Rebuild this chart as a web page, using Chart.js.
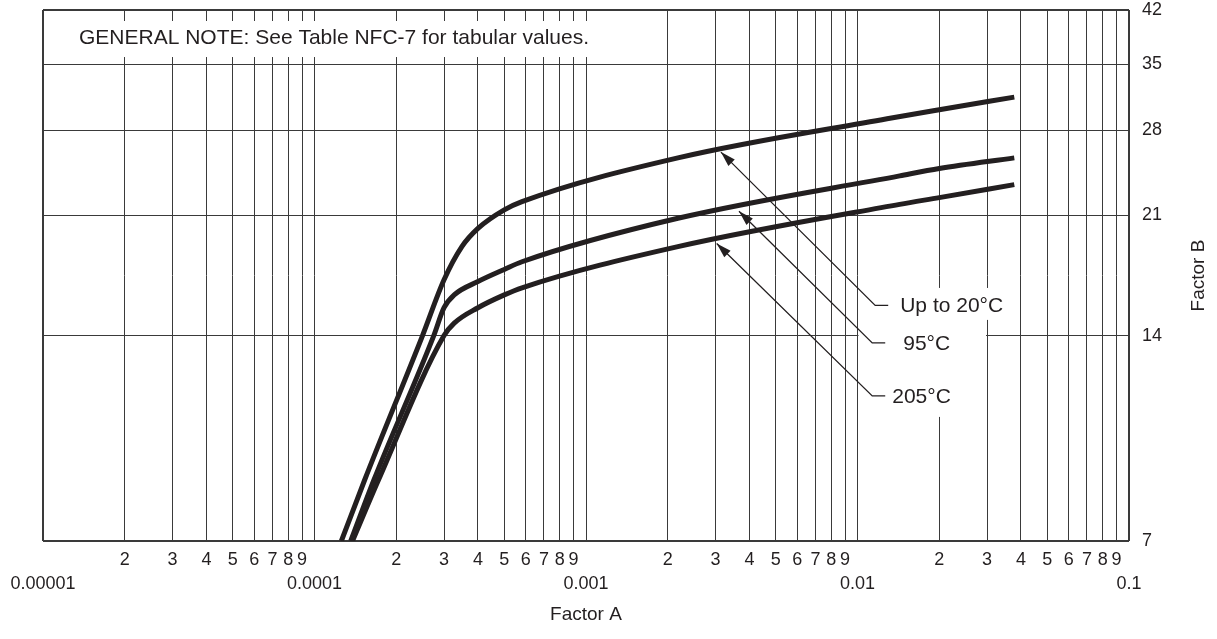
<!DOCTYPE html>
<html>
<head>
<meta charset="utf-8">
<title>Factor B vs Factor A</title>
<script src="https://cdn.jsdelivr.net/npm/chart.js@4.4.1/dist/chart.umd.min.js"></script>
<style>
  html, body { margin: 0; padding: 0; background: #fff; }
  #wrap { width: 1217px; height: 639px; position: relative; }
</style>
</head>
<body>
<div id="wrap"><canvas id="chart"></canvas></div>
<script>
// curve readings: Factor A (x) and Factor B (y) for each temperature
const a20 = [1.256e-4, 1.53e-4, 2.5e-4, 3.0e-4, 3.49e-4, 4.0e-4, 5.0e-4, 5.81e-4, 2.18e-3, 1.285e-2, 2.0e-2, 3.78e-2];
const b20 = [7.0, 8.6, 14.0, 16.9, 18.9, 20.1, 21.4, 22.0, 25.5, 29.1, 30.0, 31.3];

const a95 = [1.36e-4, 1.655e-4, 2.75e-4, 3.0e-4, 3.27e-4, 4.0e-4, 5.0e-4, 5.81e-4, 2.18e-3, 1.43e-2, 2.0e-2, 3.78e-2];
const b95 = [7.0, 8.6, 14.0, 15.38, 16.06, 16.8, 17.5, 17.96, 20.8, 24.0, 24.6, 25.5];

const a205 = [1.38e-4, 1.72e-4, 3.0e-4, 3.27e-4, 4.0e-4, 5.0e-4, 5.81e-4, 2.18e-3, 1.43e-2, 2.0e-2, 3.78e-2];
const b205 = [7.0, 8.6, 14.0, 14.6, 15.38, 16.06, 16.45, 18.9, 21.8, 22.3, 23.3];

const curveLabels = ['Up to 20°C', '95°C', '205°C'];

// axis ticks
const decadeValues = [1e-5, 1e-4, 1e-3, 1e-2, 1e-1];
const decadeLabels = ['0.00001', '0.0001', '0.001', '0.01', '0.1'];
const minorLabels = ['2', '3', '4', '5', '6', '7', '8', '9'];
const bTicks = [7, 14, 21, 28, 35, 42];

// leader arrows (Factor A, Factor B): tip on curve, elbow by the label
const tipA = [3.14e-3, 3.66e-3, 3.03e-3];
const tipB = [26.0, 21.3, 19.1];
const elbowA = [1.162e-2, 1.133e-2, 1.133e-2];
const elbowB = [15.5, 13.66, 11.42];

const noteText = 'GENERAL NOTE: See Table NFC-7 for tabular values.';

const ink = '#231f20';
const gridColor = '#3a3a3a';
const fontFamily = '"Liberation Sans", Arial, Helvetica, sans-serif';

const aTicks = [];
const aTickLabels = [];
decadeValues.forEach(function (d, i) {
    aTicks.push(d);
    aTickLabels.push(['', decadeLabels[i]]);
    if (i < decadeValues.length - 1) {
        minorLabels.forEach(function (m, j) {
            aTicks.push(d * (j + 2));
            aTickLabels.push(m);
        });
    }
});

function points(xs, ys) {
    return xs.map(function (v, i) { return {x: v, y: ys[i]}; });
}

function align(p) {
    return Math.round(p - 0.5) + 0.5;
}

const overlay = {
    id: 'overlay',
    afterDatasetsDraw(chart) {
        const ctx = chart.ctx;
        const ca = chart.chartArea;
        const x = chart.scales.x;
        const y = chart.scales.y;
        ctx.save();

        // general note panel
        const noteBottom = y.getPixelForValue(35);
        const noteRight = x.getPixelForValue(1.25e-3);
        ctx.fillStyle = '#fff';
        ctx.fillRect(ca.left + 1, ca.top + 1, noteRight - ca.left - 1, noteBottom - ca.top - 1.5);
        ctx.strokeStyle = gridColor;
        ctx.lineWidth = 1;
        ctx.beginPath();
        aTicks.forEach(function (v) {
            const px = align(x.getPixelForValue(v));
            if (px > ca.left + 2 && px < noteRight) {
                ctx.moveTo(px, ca.top);
                ctx.lineTo(px, ca.top + 11);
                ctx.moveTo(px, noteBottom);
                ctx.lineTo(px, noteBottom - 7);
            }
        });
        ctx.stroke();
        ctx.fillStyle = ink;
        ctx.font = '21px ' + fontFamily;
        ctx.textAlign = 'left';
        ctx.textBaseline = 'middle';
        ctx.fillText(noteText, ca.left + 36, (ca.top + noteBottom) / 2 + 1);

        // white panel behind the curve labels
        const l = x.getPixelForValue(0.01) + 1;
        const r = x.getPixelForValue(0.03) - 1;
        const t = y.getPixelForValue(16.44);
        const b = y.getPixelForValue(10.64);
        ctx.fillStyle = '#fff';
        ctx.fillRect(l, t, r - l, b - t);
        ctx.fillRect(l, t, x.getPixelForValue(3.6e-2) - l, y.getPixelForValue(14.76) - t);

        // leaders with arrowheads
        const gaps = [12, 18, 7];
        ctx.strokeStyle = ink;
        ctx.fillStyle = ink;
        ctx.lineWidth = 1.3;
        curveLabels.forEach(function (label, i) {
            const tx = x.getPixelForValue(tipA[i]);
            const ty = y.getPixelForValue(tipB[i]);
            const ex = x.getPixelForValue(elbowA[i]);
            const ey = y.getPixelForValue(elbowB[i]);
            const stub = ex + 13;
            ctx.beginPath();
            ctx.moveTo(stub, ey);
            ctx.lineTo(ex, ey);
            ctx.lineTo(tx, ty);
            ctx.stroke();
            const ang = Math.atan2(ty - ey, tx - ex);
            const len = 15, half = 4.5;
            ctx.beginPath();
            ctx.moveTo(tx, ty);
            ctx.lineTo(tx - len * Math.cos(ang) + half * Math.sin(ang), ty - len * Math.sin(ang) - half * Math.cos(ang));
            ctx.lineTo(tx - len * Math.cos(ang) - half * Math.sin(ang), ty - len * Math.sin(ang) + half * Math.cos(ang));
            ctx.closePath();
            ctx.fill();
            ctx.font = '21px ' + fontFamily;
            ctx.textAlign = 'left';
            ctx.textBaseline = 'middle';
            ctx.fillText(label, stub + gaps[i], ey + 1);
        });

        // Factor B title, reading bottom to top
        ctx.translate(1199, (ca.top + ca.bottom) / 2);
        ctx.rotate(-Math.PI / 2);
        ctx.textAlign = 'center';
        ctx.font = '19px ' + fontFamily;
        ctx.fillText('Factor B', 0, 0);
        ctx.restore();
    }
};

const curveStyle = {
    borderColor: ink,
    borderWidth: 5,
    pointRadius: 0,
    fill: false,
    cubicInterpolationMode: 'monotone'
};

const ctx = document.getElementById('chart');

const myChart = new Chart(ctx, {
    type: 'line',
    data: {
        datasets: [
            Object.assign({label: curveLabels[0], data: points(a20, b20)}, curveStyle),
            Object.assign({label: curveLabels[1], data: points(a95, b95)}, curveStyle),
            Object.assign({label: curveLabels[2], data: points(a205, b205)}, curveStyle)
        ]
    },
    options: {
        responsive: true,
        maintainAspectRatio: false,
        animation: false,
        devicePixelRatio: 1,
        layout: {padding: {left: 43, top: 10, right: 0, bottom: 0}},
        plugins: {
            legend: {display: false},
            tooltip: {enabled: false}
        },
        scales: {
            x: {
                type: 'logarithmic',
                min: 1e-5,
                max: 1e-1,
                afterBuildTicks: function (s) {
                    s.ticks = aTicks.map(function (v) { return {value: v}; });
                },
                afterFit: function (s) { s.height = 98; },
                ticks: {
                    autoSkip: false,
                    maxRotation: 0,
                    minRotation: 0,
                    padding: 7,
                    color: ink,
                    font: {family: fontFamily, size: 18, lineHeight: 1.333},
                    callback: function (v, i) { return aTickLabels[i]; }
                },
                grid: {
                    color: gridColor,
                    lineWidth: function (c) {
                        return (c.index === 0 || c.index === aTicks.length - 1) ? 2 : 1;
                    },
                    drawTicks: false
                },
                border: {display: false},
                title: {
                    display: true,
                    text: 'Factor A',
                    color: ink,
                    font: {family: fontFamily, size: 19},
                    padding: {top: 0, bottom: 13}
                }
            },
            y: {
                type: 'logarithmic',
                position: 'right',
                min: 7,
                max: 42,
                afterBuildTicks: function (s) {
                    s.ticks = bTicks.map(function (v) { return {value: v}; });
                },
                afterFit: function (s) {
                    s.width = 88;
                    s.paddingTop = 10;
                    s.paddingBottom = 10;
                },
                ticks: {
                    padding: 13,
                    color: ink,
                    font: {family: fontFamily, size: 18},
                    callback: function (v) { return String(v); }
                },
                grid: {
                    color: gridColor,
                    lineWidth: function (c) {
                        return (c.index === 0 || c.index === bTicks.length - 1) ? 2 : 1;
                    },
                    drawTicks: false
                },
                border: {display: false}
            }
        }
    },
    plugins: [overlay]
});
</script>
</body>
</html>
